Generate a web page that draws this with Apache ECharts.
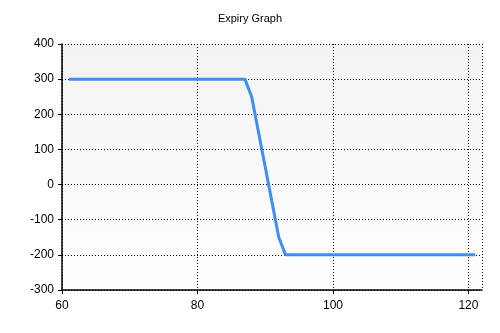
<!DOCTYPE html>
<html><head><meta charset="utf-8">
<script src="https://cdn.jsdelivr.net/npm/echarts@6/dist/echarts.min.js"></script>
<style>html,body{margin:0;padding:0;background:#fff}#c{width:500px;height:333px}</style>
</head><body><div id="c"></div>
<script>
const titleText = "Expiry Graph";
const xValues = [61, 87, 88, 89, 90, 91, 92, 93, 121];
const yValues = [300, 300, 250, 150, 50, -50, -150, -200, -200];
const xTicks = [60, 80, 100, 120];
const yTicks = [-300, -200, -100, 0, 100, 200, 300, 400];

const chart = echarts.init(document.getElementById('c'), null, {renderer: 'canvas'});
chart.setOption({
  animation: false,
  backgroundColor: '#fff',
  title: {text: titleText, left: 'center', top: 8,
    textStyle: {fontFamily: 'Liberation Sans, Arial', fontSize: 11, fontWeight: 'normal', color: '#000'}},
  grid: {left: 62, right: 18, top: 44, bottom: 43, show: true, borderWidth: 0,
    backgroundColor: new echarts.graphic.LinearGradient(0, 0, 0, 1, [
      {offset: 0, color: '#f3f3f3'}, {offset: 1, color: '#ffffff'}])},
  xAxis: {type: 'value', min: xTicks[0], max: 122, interval: 20,
    axisLine: {show: true, onZero: false, lineStyle: {color: '#000', width: 1.5}},
    axisTick: {show: true, length: 4, lineStyle: {color: '#000'}},
    axisLabel: {color: '#000', fontFamily: 'Liberation Sans, Arial', fontSize: 12, margin: 10,
      showMaxLabel: false,
      formatter: v => xTicks.includes(v) ? String(v) : ''},
    splitLine: {show: true, lineStyle: {color: '#000', type: [1, 2], width: 1}}},
  yAxis: {type: 'value', min: yTicks[0], max: yTicks[yTicks.length - 1], interval: 100,
    axisLine: {show: true, onZero: false, lineStyle: {color: '#000', width: 1.5}},
    axisTick: {show: true, length: 4, lineStyle: {color: '#000'}},
    axisLabel: {color: '#000', fontFamily: 'Liberation Sans, Arial', fontSize: 12, margin: 8},
    splitLine: {show: true, lineStyle: {color: '#000', type: [1, 2], width: 1}}},
  series: [{type: 'line', data: xValues.map((x, i) => [x, yValues[i]]),
    showSymbol: false, lineStyle: {color: '#3f8ff0', width: 3}, itemStyle: {color: '#3f8ff0'}}]
});
</script></body></html>
